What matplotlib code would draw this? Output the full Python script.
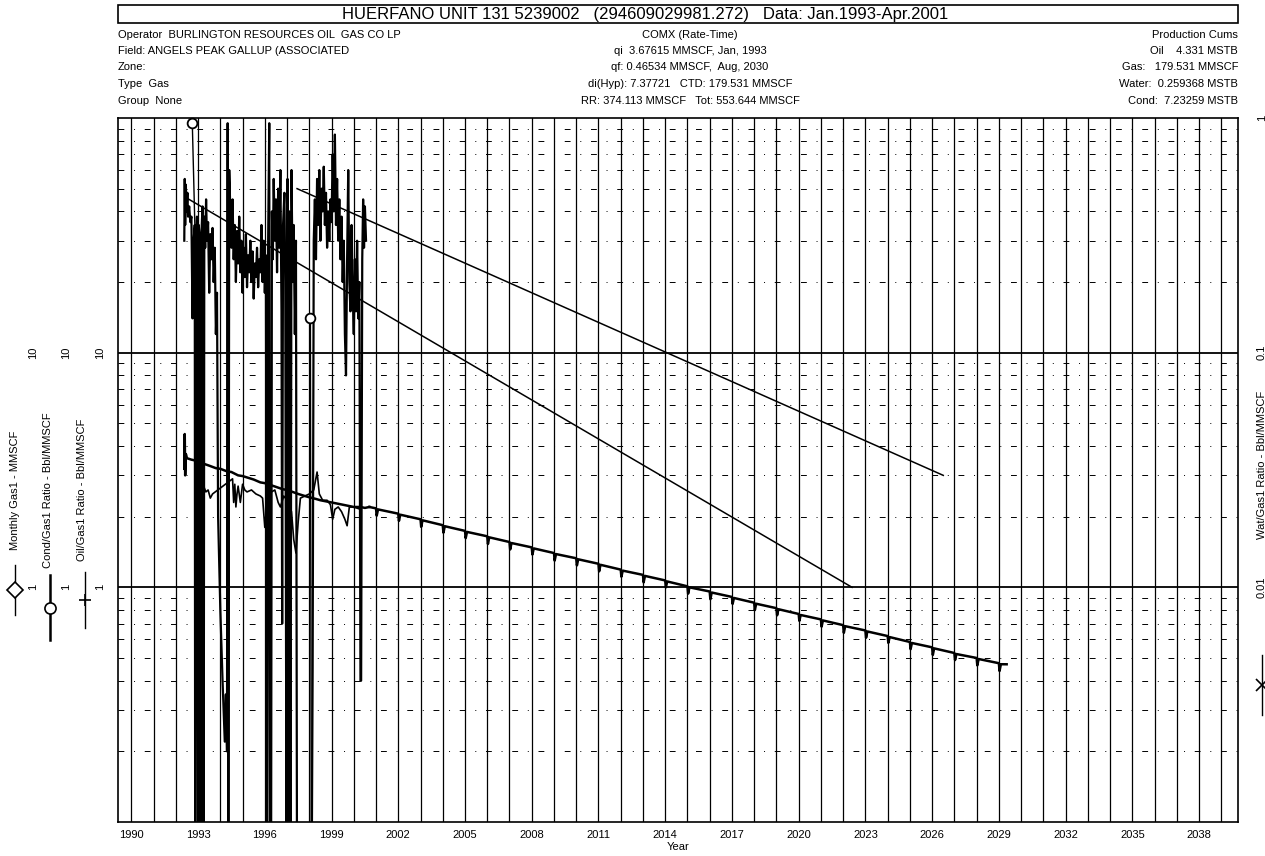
import matplotlib.pyplot as plt
import matplotlib.transforms as mtransforms
from matplotlib.lines import Line2D
import numpy as np

plt.rcParams['font.family'] = ['Liberation Sans', 'DejaVu Sans']

# ---- data ----
# monthly gas (MMSCF), history 1992-2000
gas_year = [1992.38, 1992.40, 1992.42, 1992.45, 1992.48, 1992.52, 1992.55, 1992.60, 1992.65, 1992.70,
            1992.75, 1992.80, 1992.85, 1992.87, 1992.90, 1992.95, 1993.00, 1993.03, 1993.08, 1993.12,
            1993.15, 1993.20, 1993.25, 1993.28, 1993.32, 1993.36, 1993.40, 1993.45, 1993.50, 1993.55,
            1993.60, 1993.65, 1993.70, 1993.75, 1993.80, 1993.85, 1993.90, 1994.00, 1994.10, 1994.20,
            1994.25, 1994.30, 1994.33, 1994.36, 1994.40, 1994.45, 1994.50, 1994.55, 1994.60, 1994.65,
            1994.70, 1994.75, 1994.80, 1994.85, 1994.90, 1994.95, 1995.00, 1995.05, 1995.10, 1995.15,
            1995.20, 1995.25, 1995.30, 1995.35, 1995.40, 1995.45, 1995.50, 1995.55, 1995.60, 1995.65,
            1995.70, 1995.75, 1995.80, 1995.85, 1995.90, 1995.95, 1996.00, 1996.05, 1996.10, 1996.15,
            1996.20, 1996.23, 1996.28, 1996.32, 1996.36, 1996.40, 1996.45, 1996.50, 1996.55, 1996.60,
            1996.65, 1996.70, 1996.75, 1996.78, 1996.82, 1996.88, 1996.92, 1996.98, 1997.02, 1997.06,
            1997.10, 1997.15, 1997.20, 1997.25, 1997.30, 1997.35, 1997.40, 1997.45, 1997.50, 1997.55,
            1998.10, 1998.15, 1998.20, 1998.25, 1998.30, 1998.35, 1998.40, 1998.45, 1998.50, 1998.55,
            1998.60, 1998.65, 1998.70, 1998.75, 1998.80, 1998.85, 1998.90, 1998.95, 1999.00, 1999.05,
            1999.10, 1999.15, 1999.20, 1999.25, 1999.30, 1999.35, 1999.40, 1999.45, 1999.50, 1999.55,
            1999.60, 1999.65, 1999.70, 1999.75, 1999.80, 1999.85, 1999.90, 1999.95, 2000.00, 2000.05,
            2000.10, 2000.15, 2000.20, 2000.25, 2000.30, 2000.33, 2000.38, 2000.42, 2000.46, 2000.50,
            2000.55]
gas_rate = [30, 55, 35, 52, 40, 48, 38, 42, 36, 38,
            14, 30, 35, 0.05, 30, 38, 0.04, 35, 30, 0.04,
            32, 42, 0.04, 38, 28, 45, 30, 36, 18, 32,
            25, 34, 20, 28, 12, 18, 2.0, 0.8, 0.4, 0.22,
            0.35, 0.2, 95, 0.04, 60, 40, 28, 45, 25, 35,
            20, 33, 24, 38, 22, 30, 18, 28, 21, 32,
            19, 26, 22, 30, 20, 27, 17, 24, 21, 28,
            19, 25, 22, 35, 20, 30, 18, 26, 0.05, 30,
            95, 0.04, 0.04, 40, 25, 55, 30, 45, 22, 50,
            28, 60, 15, 0.7, 35, 48, 20, 0.04, 55, 0.04,
            40, 0.04, 60, 20, 35, 12, 30, 0.04, 0.04, 0.04,
            0.04, 0.45, 30, 45, 25, 55, 35, 60, 30, 50,
            40, 62, 35, 48, 28, 40, 30, 45, 36, 70,
            40, 85, 35, 55, 30, 45, 25, 38, 20, 30,
            12, 8, 25, 60, 20, 15, 35, 18, 12, 25,
            15, 30, 14, 20, 0.4, 0.4, 25, 45, 28, 42,
            30]

# cond/gas ratio: isolated points with circle markers
cgr_year = [1992.74, 1992.97, np.nan, 1998.05, 1998.09]
cgr_val = [95, 12.8, np.nan, 14, 0.05]

# ratio history (upper, smooth-ish)
ratio_year = [1992.38, 1992.40, 1992.42, 1992.45, 1992.50, 1992.70, 1993.00, 1993.30, 1993.50, 1993.80,
              1994.00, 1994.30, 1994.50, 1994.80, 1995.00, 1995.30, 1995.50, 1995.80, 1996.00, 1996.30,
              1996.50, 1996.80, 1997.00, 1997.30, 1997.50, 1997.80, 1998.00, 1998.30, 1998.50, 1998.80,
              1999.00, 1999.30, 1999.50, 1999.80, 2000.00, 2000.30, 2000.50, 2000.70]
ratio_val = [3.2, 4.5, 3.0, 3.7, 3.55, 3.5, 3.45, 3.35, 3.3, 3.22,
             3.2, 3.12, 3.1, 3.0, 2.98, 2.92, 2.88, 2.8, 2.78, 2.72,
             2.68, 2.62, 2.6, 2.54, 2.5, 2.45, 2.42, 2.38, 2.35, 2.32,
             2.3, 2.27, 2.25, 2.22, 2.2, 2.2, 2.18, 2.2]

# oil/gas ratio history (lower, with dips)
oil_year = [1992.95, 1993.05, 1993.15, 1993.25, 1993.35, 1993.45, 1993.55, 1993.65,
            1994.55, 1994.60, 1994.65, 1994.70, 1994.75, 1994.80, 1994.90, 1995.00, 1995.10,
            1995.20, 1995.40, 1995.60, 1995.80, 1995.90, 1996.00, 1996.10, 1996.30, 1996.45,
            1996.60, 1996.70, 1996.85, 1997.00, 1997.20, 1997.30, 1997.40, 1997.50, 1997.60,
            1997.80, 1998.00, 1998.20, 1998.35, 1998.45, 1998.60, 1998.80, 1998.95, 1999.05,
            1999.15, 1999.30, 1999.45, 1999.60, 1999.70, 1999.80, 2000.00, 2000.30]
oil_val = [2.75, 2.8, 2.65, 2.7, 2.55, 2.6, 2.4, 2.5,
           2.9, 2.3, 2.75, 2.2, 2.5, 2.7, 2.3, 2.75, 2.6,
           2.55, 2.6, 2.5, 2.45, 2.4, 1.8, 2.3, 2.55, 2.6,
           2.3, 2.2, 2.45, 2.35, 2.1, 1.6, 1.4, 1.9, 2.4,
           2.45, 2.5, 2.6, 3.1, 2.5, 2.35, 2.35, 2.25, 1.95,
           2.15, 2.2, 2.1, 1.95, 1.83, 2.2, 2.2, 2.15]

# ratio forecast: value each January and the monthly dip right after it
fc_year = [2001, 2002, 2003, 2004, 2005, 2006, 2007, 2008, 2009, 2010,
           2011, 2012, 2013, 2014, 2015, 2016, 2017, 2018, 2019, 2020,
           2021, 2022, 2023, 2024, 2025, 2026, 2027, 2028, 2029]
fc_val = [2.17, 2.06, 1.95, 1.84, 1.74, 1.65, 1.56, 1.48, 1.40, 1.33,
          1.26, 1.19, 1.13, 1.07, 1.01, 0.96, 0.91, 0.86, 0.815, 0.77,
          0.73, 0.69, 0.655, 0.62, 0.585, 0.555, 0.525, 0.50, 0.475]
fc_dip = [2.02, 1.92, 1.81, 1.71, 1.62, 1.53, 1.45, 1.38, 1.30, 1.24,
          1.17, 1.11, 1.05, 1.00, 0.94, 0.89, 0.85, 0.80, 0.76, 0.72,
          0.68, 0.64, 0.61, 0.58, 0.545, 0.515, 0.49, 0.465, 0.44]
fc_end_year = 2029.35
fc_end_val = 0.47

# gas decline forecasts (start/end)
dec1_year = [1992.42, 2022.4]
dec1_rate = [46, 1.0]
dec2_year = [1997.45, 2026.5]
dec2_rate = [50, 3.0]

year_ticks = list(range(1990, 2039, 3))

# ---- figure ----
W, H = 1265, 856
fig = plt.figure(figsize=(W / 100, H / 100), dpi=100)
ax = fig.add_axes([118 / W, 1 - 822 / H, (1238 - 118) / W, (822 - 118) / H])
ax.set_yscale('log')
ax.set_xlim(1989.4, 2039.75)
ax.set_ylim(0.1, 100)

# grid: solid year lines, solid decade lines, dash-dot minor lines
for yr in range(1990, 2040):
    ax.axvline(yr, color='black', lw=0.9, zorder=1)
for d in [1, 10]:
    ax.axhline(d, color='black', lw=1.3, zorder=1)
for d in [0.1, 1, 10]:
    for m in range(2, 10):
        ax.axhline(d * m, color='black', lw=0.7, ls=(0, (6, 10, 1, 10)), zorder=1)

# data
ax.plot(gas_year, gas_rate, color='black', lw=1.6, zorder=3)
ax.plot(ratio_year, ratio_val, color='black', lw=1.8, zorder=3)
ax.plot(oil_year, oil_val, color='black', lw=1.2, zorder=3)

fx, fy = [2000.7], [2.2]
for yr, v, dp in zip(fc_year, fc_val, fc_dip):
    fx += [yr, yr + 0.03, yr + 0.09]
    fy += [v, dp, v * 0.99]
fx.append(fc_end_year)
fy.append(fc_end_val)
ax.plot(fx, fy, color='black', lw=1.8, zorder=3)

ax.plot(dec1_year, dec1_rate, color='black', lw=1.1, zorder=3)
ax.plot(dec2_year, dec2_rate, color='black', lw=1.1, zorder=3)

ax.plot(cgr_year, cgr_val, color='black', lw=1.0, zorder=3)
ax.plot([cgr_year[0], cgr_year[3]], [cgr_val[0], cgr_val[3]], ls='none', marker='o',
        ms=7, mfc='white', mec='black', mew=1.3, zorder=4, clip_on=False)

ax.set_xticks(year_ticks)
ax.set_xticklabels([str(y) for y in year_ticks], fontsize=8)
ax.tick_params(axis='x', length=0, pad=6)
ax.set_yticks([])
ax.minorticks_off()
ax.set_xlabel('Year', fontsize=8, labelpad=1)
for s in ax.spines.values():
    s.set_linewidth(1.2)

# ---- header ----
def fxp(px):
    return px / W

def fyp(py):
    return 1 - py / H

fig.patches.append(plt.Rectangle((fxp(118), fyp(23)), fxp(1238) - fxp(118), fyp(5) - fyp(23),
                                 transform=fig.transFigure, fill=False, lw=1.2, ec='black'))
fig.text(fxp(645), fyp(14), 'HUERFANO UNIT 131 5239002   (294609029981.272)   Data: Jan.1993-Apr.2001',
         ha='center', va='center', fontsize=12)

left_rows = ['Operator  BURLINGTON RESOURCES OIL  GAS CO LP', 'Field: ANGELS PEAK GALLUP (ASSOCIATED',
             'Zone:', 'Type  Gas', 'Group  None']
mid_rows = ['COMX (Rate-Time)', 'qi  3.67615 MMSCF, Jan, 1993', 'qf: 0.46534 MMSCF,  Aug, 2030',
            'di(Hyp): 7.37721   CTD: 179.531 MMSCF', 'RR: 374.113 MMSCF   Tot: 553.644 MMSCF']
right_rows = ['Production Cums', 'Oil    4.331 MSTB', 'Gas:   179.531 MMSCF',
              'Water:  0.259368 MSTB', 'Cond:  7.23259 MSTB']
row_y = [35, 51, 67, 84, 101]
for yy, l, m, r in zip(row_y, left_rows, mid_rows, right_rows):
    fig.text(fxp(118), fyp(yy), l, ha='left', va='center', fontsize=8)
    fig.text(fxp(690), fyp(yy), m, ha='center', va='center', fontsize=8)
    fig.text(fxp(1238), fyp(yy), r, ha='right', va='center', fontsize=8)

# ---- side axis labels ----
tr = mtransforms.blended_transform_factory(fig.transFigure, ax.transData)
left_cols = [(15, 33, 'Monthly Gas1 - MMSCF', 490),
             (48, 66, 'Cond/Gas1 Ratio - Bbl/MMSCF', 490),
             (82, 100, 'Oil/Gas1 Ratio - Bbl/MMSCF', 490)]
for xl, xt, label, ly in left_cols:
    fig.text(fxp(xl), fyp(ly), label, rotation=90, ha='center', va='center', fontsize=8)
    fig.text(fxp(xt), 10, '10', transform=tr, rotation=90, ha='center', va='center', fontsize=8)
    fig.text(fxp(xt), 1, '1', transform=tr, rotation=90, ha='center', va='center', fontsize=8)

# legend symbols in margins
sym = [(15, 565, 615, 'D', 1.0), (50, 575, 640, 'o', 1.8), (85, 572, 628, '+', 1.0), (1262, 655, 715, 'x', 1.0)]
for xs, y0, y1, mk, lw in sym:
    fig.add_artist(Line2D([fxp(xs), fxp(xs)], [fyp(y0), fyp(y1)], transform=fig.transFigure,
                          color='black', lw=lw))
    fig.add_artist(Line2D([fxp(xs)], [fyp((y0 + y1) / 2)], transform=fig.transFigure, marker=mk,
                          ms=8, mfc='white', mec='black', mew=1.2, color='black'))

# right axis (water/gas ratio) labels
for v, t in [(100, '1'), (10, '0.1'), (1, '0.01')]:
    fig.text(fxp(1262), v, t, transform=tr, rotation=90, ha='center', va='center', fontsize=8)
fig.text(fxp(1262), fyp(465), 'Wat/Gas1 Ratio - Bbl/MMSCF', rotation=90, ha='center', va='center', fontsize=8)

fig.savefig('out.png', dpi=100, facecolor='white')
